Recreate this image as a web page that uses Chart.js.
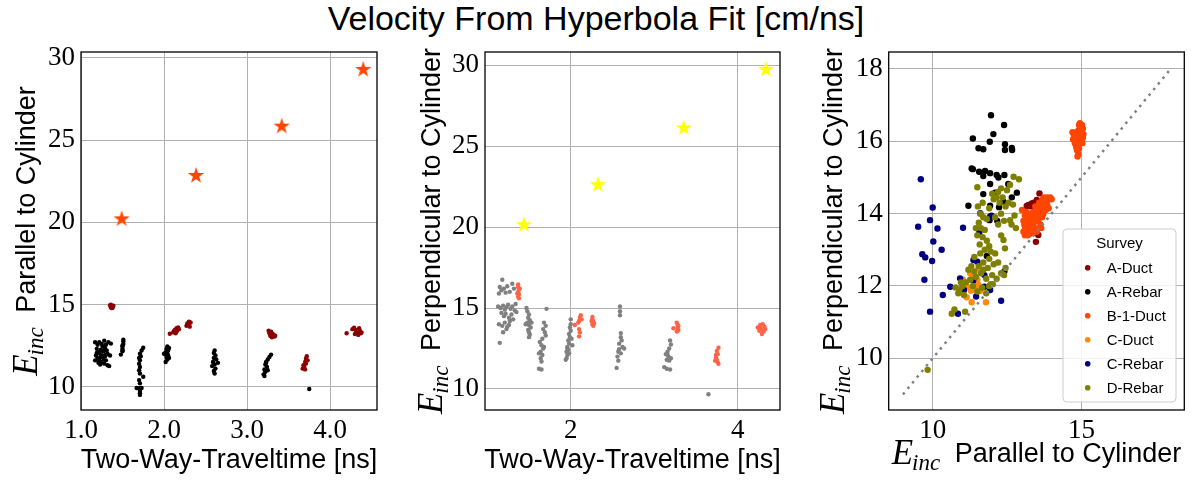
<!DOCTYPE html>
<html><head><meta charset="utf-8">
<script src="https://cdn.jsdelivr.net/npm/chart.js@4.4.1/dist/chart.umd.min.js"></script>
<style>
html,body{margin:0;padding:0;background:#fff;}
body{width:1192px;height:480px;position:relative;overflow:hidden;}
#title{position:absolute;left:0;top:1px;width:1192px;text-align:center;font-family:'Liberation Sans',sans-serif;font-size:34px;line-height:34px;color:#000;}
canvas{position:absolute;top:0;}
</style></head>
<body>
<div id="title">Velocity From Hyperbola Fit [cm/ns]</div>
<canvas id="c1" width="390" height="480" style="left:0px"></canvas>
<canvas id="c2" width="400" height="480" style="left:390px"></canvas>
<canvas id="c3" width="402" height="480" style="left:790px"></canvas>
<script>
// ---------- DATA ----------
// Panel 1: Two-way traveltime [ns] vs E_inc parallel
const starTwt1 = [1.49, 2.386, 3.418, 4.40];
const starPar  = [20.24, 22.88, 25.88, 29.33];
const parDuct = [[1.35,14.95],[1.36,14.82],[1.37,14.9],[1.38,14.8],[1.39,14.92],[1.36,14.98],[1.38,14.86],[1.37,14.78],
 [2.07,13.22],[2.11,13.3],[2.13,13.45],[2.15,13.55],[2.16,13.4],[2.17,13.6],[2.14,13.25],[2.18,13.5],[2.12,13.38],
 [2.27,13.7],[2.28,13.85],[2.29,13.75],[2.3,13.95],[2.31,13.65],[2.3,13.8],[2.32,13.9],
 [3.26,13.4],[3.27,13.25],[3.28,13.1],[3.3,13.0],[3.32,13.15],[3.33,13.05],[3.29,13.35],[3.31,13.2],[3.34,13.1],
 [3.67,11.1],[3.68,11.3],[3.7,11.5],[3.71,11.7],[3.72,11.85],[3.69,11.2],[3.7,11.05],[3.73,11.6],[3.71,11.4],
 [4.2,13.25],[4.27,13.5],[4.29,13.58],[4.31,13.45],[4.33,13.3],[4.34,13.15],[4.36,13.4],[4.37,13.25],[4.3,13.2],[4.35,13.55],[4.38,13.3]];
const parRebar = [[1.17,12.7],[1.2,12.55],[1.22,12.7],[1.25,12.6],[1.28,12.8],[1.3,12.55],[1.33,12.7],[1.36,12.62],[1.19,12.3],[1.21,12.1],[1.23,12.0],[1.24,12.25],[1.26,11.9],[1.27,12.15],[1.29,12.35],[1.31,12.2],[1.32,12.0],[1.18,11.9],[1.2,11.75],[1.22,11.6],[1.24,11.8],[1.25,11.5],[1.27,11.7],[1.28,11.4],[1.3,11.6],[1.32,11.3],[1.34,11.25],[1.17,11.6],[1.21,11.45],[1.35,11.9],[1.26,12.45],[1.23,11.35],[1.29,11.85],[1.19,12.05],[1.3,11.95],
 [1.48,11.95],[1.5,12.15],[1.5,12.3],[1.5,12.45],[1.51,12.6],[1.51,12.75],[1.51,12.85],[1.5,12.5],[1.5,12.2],
 [1.75,12.37],[1.73,12.2],[1.71,12.0],[1.72,11.85],[1.7,11.75],[1.71,11.6],[1.7,11.4],[1.71,11.2],[1.7,11.0],[1.71,10.8],[1.75,10.6],[1.7,10.4],[1.71,10.2],[1.67,9.92],[1.7,9.9],[1.73,9.92],[1.71,9.75],[1.71,9.6],[1.71,9.5],
 [2.0,12.0],[2.02,12.1],[2.03,12.3],[2.04,12.45],[2.05,12.2],[2.05,11.9],[2.03,11.8],[2.04,11.65],[2.02,11.5],[2.06,12.35],[2.04,12.0],[2.06,11.75],
 [2.61,12.2],[2.6,12.05],[2.62,11.9],[2.6,11.75],[2.63,11.65],[2.59,11.5],[2.65,11.45],[2.61,11.35],[2.58,11.25],[2.62,11.1],[2.6,10.95],[2.61,10.8],
 [3.29,11.95],[3.27,11.8],[3.25,11.65],[3.23,11.5],[3.22,11.35],[3.24,11.2],[3.21,11.05],[3.22,10.9],[3.2,10.75],[3.21,10.65],[3.23,11.45],[3.25,11.0],
 [3.75,9.86]];
// Panel 2: Two-way traveltime [ns] vs E_inc perpendicular
const starTwt2 = [1.438, 2.326, 3.354, 4.34];
const starPerp = [20.18, 22.65, 26.17, 29.78];
const perpRebar = [[1.18,16.75],[1.15,16.3],[1.17,16.1],[1.14,15.9],[1.2,16.2],[1.24,16.35],[1.27,16.0],[1.22,15.95],[1.3,16.5],[1.32,16.2],[1.13,15.1],[1.16,15.0],[1.19,15.15],[1.21,14.9],[1.23,15.05],[1.25,15.2],[1.28,14.95],[1.3,15.1],[1.33,14.85],[1.17,14.7],[1.2,14.5],[1.22,14.65],[1.26,14.4],[1.29,14.6],[1.31,14.3],[1.14,14.0],[1.18,13.9],[1.21,14.1],[1.24,13.85],[1.27,14.2],[1.19,13.5],[1.23,13.7],[1.26,13.95],[1.15,12.85],[1.35,14.75],[1.34,15.25],
 [1.47,15.0],[1.48,14.8],[1.5,14.6],[1.49,14.4],[1.51,14.25],[1.48,14.1],[1.5,13.95],[1.52,13.8],[1.49,13.65],[1.5,13.5],[1.51,13.35],[1.5,13.2],[1.46,14.0],[1.53,14.1],
 [1.71,14.95],[1.68,14.1],[1.7,13.9],[1.67,13.7],[1.69,13.5],[1.7,13.3],[1.66,13.1],[1.63,12.9],[1.65,12.7],[1.67,12.5],[1.64,12.3],[1.66,12.1],[1.64,11.9],[1.65,11.7],[1.62,11.25],[1.65,11.2],[1.68,12.6],[1.62,12.2],
 [2.0,14.3],[2.0,14.0],[1.99,13.8],[2.0,13.6],[1.98,13.4],[1.99,13.2],[1.97,13.0],[1.98,12.8],[1.96,12.6],[1.97,12.4],[1.95,12.3],[1.96,12.1],[1.95,11.9],[1.94,11.8],[2.01,13.1],[2.02,12.7],[1.98,12.2],[1.96,12.5],
 [2.59,15.1],[2.59,14.8],[2.59,14.55],[2.6,13.45],[2.6,13.2],[2.61,13.0],[2.58,12.8],[2.62,12.6],[2.64,12.5],[2.57,12.3],[2.6,12.2],[2.56,12.0],[2.57,11.75],[2.55,11.3],[2.58,12.45],
 [3.19,13.0],[3.2,12.75],[3.18,12.5],[3.16,12.3],[3.14,12.15],[3.17,12.0],[3.2,11.9],[3.15,11.8],[3.18,11.75],[3.12,11.35],[3.15,11.25],[3.19,11.2],[3.16,12.1],
 [3.65,9.67]];
const perpDuct = [[1.37,16.45],[1.37,16.3],[1.38,16.15],[1.37,16.0],[1.38,15.85],[1.37,15.7],[1.38,15.6],[1.39,16.2],[1.36,15.9],
 [2.05,13.95],[2.09,14.1],[2.11,14.4],[2.12,14.55],[2.1,14.2],[2.1,13.7],[2.11,13.5],[2.1,13.25],[2.13,14.3],
 [2.26,14.45],[2.26,14.3],[2.27,14.15],[2.26,14.0],[2.27,13.9],[2.25,14.2],[2.28,14.05],
 [3.27,14.1],[3.28,13.95],[3.28,13.8],[3.29,13.65],[3.27,13.55],[3.23,13.75],[3.29,13.9],[3.28,13.6],
 [3.77,12.55],[3.75,12.35],[3.76,12.15],[3.74,11.95],[3.75,11.8],[3.76,11.65],[3.77,11.55],[3.74,12.1],[3.73,11.75],
 [4.24,13.8],[4.27,13.95],[4.3,14.0],[4.32,13.85],[4.28,13.7],[4.31,13.55],[4.26,13.6],[4.33,13.7],[4.29,13.4],[4.27,13.85]];
// Panel 3: E_inc parallel vs E_inc perpendicular, by survey
const surveys = ['A-Duct','A-Rebar','B-1-Duct','C-Duct','C-Rebar','D-Rebar'];
const surveyColors = ['#8B0000','#000000','#FF4500','#FF8C00','#000080','#808000'];
const aDuct = [[13.59,14.56],[13.22,14.24],[13.33,14.28],[13.5,14.38],[13.16,14.21],[13.4,14.3],[13.55,13.41],[13.47,13.22],[13.3,14.2]];
const aRebar = [[11.96,16.72],[12.40,16.45],[11.35,16.08],[12.04,16.20],[11.92,15.99],[11.54,15.81],[11.70,15.78],[12.43,15.92],[12.43,15.76],[12.66,15.82],[12.67,15.76],[11.31,15.25],[11.35,15.23],[11.56,15.16],[11.76,15.18],[11.93,15.12],[11.70,15.04],[12.15,15.07],[12.41,15.07],[12.21,15.00],[12.54,14.82],[11.93,14.82],[11.70,14.54],[12.10,14.58],[12.83,14.58],[12.66,14.45],[11.20,14.22],[11.93,14.22],[12.23,14.18],[12.38,14.33],[11.91,13.82],[12.17,13.80],[11.82,12.83]];
const b1Duct = [[13.05,13.5],[13.1,13.6],[13.15,13.45],[13.2,13.7],[13.25,13.55],[13.3,13.8],[13.35,13.65],[13.4,13.5],[13.05,13.8],[13.1,13.95],[13.15,14.05],[13.2,13.9],[13.25,14.0],[13.3,13.6],[13.35,13.9],[13.4,13.75],[13.45,13.6],[13.1,13.4],[13.2,13.4],[13.3,13.45],[13.0,14.1],[13.08,13.7],[13.18,13.8],[13.28,13.95],[13.38,14.05],[13.48,13.85],[13.5,14.0],[13.55,14.1],[13.6,14.2],[13.65,14.3],[13.7,14.4],[13.75,14.45],[13.8,14.35],[13.85,14.45],[13.9,14.4],[13.95,14.45],[14.0,14.4],[13.6,13.95],[13.65,14.05],[13.7,14.15],[13.75,14.2],[13.8,14.1],[13.55,13.8],[13.62,13.7],[13.68,13.9],[13.72,14.0],[13.58,14.3],[13.85,14.25],[13.9,14.15],[13.5,13.5],[13.45,14.2],[13.65,13.6],
 [14.95,16.5],[15.02,16.45],[15.05,16.35],[14.98,16.4],[14.9,16.3],[14.85,16.25],[14.7,16.25],[14.75,16.15],[14.8,16.05],[14.85,16.0],[14.9,16.1],[14.95,16.2],[15.0,16.25],[15.05,16.1],[15.0,16.0],[14.78,15.95],[14.82,15.85],[14.88,15.9],[14.92,15.8],[14.85,15.75],[14.9,15.65],[14.87,15.58],[14.95,15.95],[15.03,15.95],[14.72,16.05],[14.8,16.2],[14.97,16.05],[14.92,16.45],[15.07,16.2]];
const cDuct = [[11.01,12.18],[11.26,12.35],[11.35,12.26],[11.20,11.96],[11.42,11.94],[11.54,12.03],[11.59,11.86],[11.14,11.69],[11.31,11.55],[11.79,11.55],[11.50,12.18],[11.54,12.49],[11.29,11.87],[11.1,12.05],[11.45,12.1]];
const cRebar = [[9.60,14.95],[10.0,14.17],[9.91,13.82],[10.16,13.59],[9.51,13.64],[10.02,13.23],[10.30,13.0],[9.65,12.88],[9.75,12.79],[9.98,12.69],[9.72,12.17],[9.91,11.29],[10.34,11.75],[10.59,11.98],[10.92,12.21],[11.05,11.89],[10.85,11.23],[11.02,13.61],[11.60,14.01],[11.57,13.49],[11.93,13.92],[11.98,13.94],[11.37,12.72],[11.50,12.67],[11.36,12.15],[11.74,12.30],[11.74,11.98],[11.93,11.89],[11.46,11.71],[12.30,11.59],[12.41,12.40]];
const dRebar = [[9.83,9.68],[10.64,11.23],[10.73,11.35],[11.09,11.29],[10.86,11.8],[10.77,11.96],[11.26,12.17],[11.4,12.4],[11.55,12.55],[11.7,12.65],[11.85,12.5],[12.0,12.3],[11.95,12.05],[11.8,12.2],[11.62,12.35],[11.45,12.25],[11.35,12.0],[11.5,11.85],[11.7,12.45],[11.9,12.75],[12.05,12.6],[12.15,12.2],[12.3,12.35],[12.45,12.5],[12.4,12.3],[11.6,12.9],[11.75,13.0],[11.9,13.1],[11.58,13.15],[11.68,13.35],[11.82,13.25],[11.5,13.4],[11.45,13.6],[11.55,13.75],[11.7,13.9],[11.82,13.85],[11.6,14.0],[11.52,14.2],[11.68,14.3],[11.5,14.73],[11.9,14.15],[12.05,14.4],[12.2,14.6],[12.35,14.45],[12.5,14.65],[12.6,14.8],[12.72,15.02],[12.9,14.95],[12.45,14.2],[12.3,14.0],[12.55,14.3],[12.7,14.25],[12.4,13.8],[12.6,13.82],[12.75,13.95],[12.8,13.6],[12.65,13.7],[12.38,13.27],[12.43,13.04],[12.3,13.4],[12.2,13.7],[12.1,13.9],[12.25,14.3],[12.15,14.45],[12.0,14.55],[12.3,14.7],[11.4,12.8],[11.3,12.55],[11.2,12.45],[11.12,12.1],[11.0,12.0],[10.9,11.9],[11.05,11.75],[10.95,12.1],[12.1,12.9],[11.95,12.95],[12.2,12.65],[11.62,13.6],[11.75,13.55],[11.66,11.95],[11.8,11.8],[11.9,12.0],[12.02,12.05]];
const surveyData = [aDuct, aRebar, b1Duct, cDuct, cRebar, dRebar];
const diagLine = [9, 18];
// tick labels
const xTicks1 = [1, 2, 3, 4], yTicks1 = [10, 15, 20, 25, 30];
const xTicks2 = [2, 4],       yTicks2 = [10, 15, 20, 25, 30];
const xTicks3 = [10, 15],     yTicks3 = [10, 12, 14, 16, 18];

// ---------- helpers ----------
const pts = arr => arr.map(p => ({x: p[0], y: p[1]}));
const zip = (xs, ys) => xs.map((x, i) => ({x, y: ys[i]}));
function starImg(color, r) {
  const s = Math.ceil(2 * r + 2), c = document.createElement('canvas');
  c.width = s; c.height = s;
  const g = c.getContext('2d');
  g.translate(s / 2, s / 2 + r * 0.08);
  g.beginPath();
  for (let i = 0; i < 10; i++) {
    const rr = i % 2 ? r * 0.382 : r, a = -Math.PI / 2 + i * Math.PI / 5;
    g.lineTo(rr * Math.cos(a), rr * Math.sin(a));
  }
  g.closePath(); g.fillStyle = color; g.fill();
  return c;
}
const SANS = "'Liberation Sans', Arial, sans-serif";
const SERIF = "'Liberation Serif', 'Times New Roman', serif";
function drawTitle(ctx, t, cx, cy, rot) {
  ctx.save();
  ctx.translate(cx, cy);
  if (rot) ctx.rotate(-Math.PI / 2);
  ctx.font = "27px " + SANS;
  const sw = ctx.measureText(t.text).width;
  const ew = t.e ? 63 : 0;
  let u = -(ew + sw) / 2;
  ctx.fillStyle = '#000'; ctx.textAlign = 'left'; ctx.textBaseline = 'alphabetic';
  if (t.e) {
    ctx.font = "italic 35px " + SERIF;
    ctx.fillText('E', u, 2);
    const w = ctx.measureText('E').width;
    ctx.font = "italic 23px " + SERIF;
    ctx.fillText('inc', u + w - 1, 8);
  }
  ctx.font = "27px " + SANS;
  ctx.fillText(t.text, u + ew, 0);
  ctx.restore();
}
function roundRect(ctx, x, y, w, h, r) {
  ctx.beginPath();
  ctx.moveTo(x + r, y); ctx.lineTo(x + w - r, y); ctx.quadraticCurveTo(x + w, y, x + w, y + r);
  ctx.lineTo(x + w, y + h - r); ctx.quadraticCurveTo(x + w, y + h, x + w - r, y + h);
  ctx.lineTo(x + r, y + h); ctx.quadraticCurveTo(x, y + h, x, y + h - r);
  ctx.lineTo(x, y + r); ctx.quadraticCurveTo(x, y, x + r, y); ctx.closePath();
}
const deco = {
  id: 'deco',
  afterDraw(chart, args, o) {
    const {ctx, chartArea: a} = chart;
    ctx.save();
    ctx.strokeStyle = '#000'; ctx.lineWidth = 1.3;
    ctx.strokeRect(a.left, a.top, a.right - a.left, a.bottom - a.top);
    drawTitle(ctx, o.xTitle, (a.left + a.right) / 2, o.xBase, false);
    drawTitle(ctx, o.yTitle, o.yBase, (a.top + a.bottom) / 2, true);
    if (o.legend) {
      const L = o.legend;
      roundRect(ctx, L.x, L.y, L.w, L.h, 4);
      ctx.fillStyle = 'rgba(255,255,255,0.85)'; ctx.fill();
      ctx.strokeStyle = '#cccccc'; ctx.lineWidth = 1; ctx.stroke();
      ctx.fillStyle = '#000'; ctx.textAlign = 'center'; ctx.textBaseline = 'alphabetic';
      ctx.font = "15px " + SANS;
      ctx.fillText('Survey', L.x + L.w / 2, L.y + 19);
      ctx.textAlign = 'left'; ctx.textBaseline = 'middle';
      chart.data.datasets.forEach((ds, i) => {
        if (ds.label === undefined) return;
        const y = L.y + 38.7 + i * 24;
        ctx.beginPath(); ctx.arc(L.x + 24.7, y, 2.8, 0, Math.PI * 2);
        ctx.fillStyle = ds.backgroundColor; ctx.fill();
        ctx.fillStyle = '#000'; ctx.font = "15px " + SANS;
        ctx.fillText(ds.label, L.x + 43.7, y + 1);
      });
    }
    ctx.restore();
  }
};
function axis(min, max, ticks, fmt, isX, size) {
  return {
    type: 'linear', min, max,
    afterBuildTicks: s => { s.ticks = ticks.map(v => ({value: v})); },
    afterFit: s => { if (isX) s.height = size; else s.width = size; },
    grid: {color: '#b0b0b0', lineWidth: 1, drawTicks: false},
    border: {display: false},
    ticks: {padding: isX ? 5 : 6, color: '#000', autoSkip: false, maxRotation: 0,
            font: {family: SERIF, size: 27}, callback: fmt}
  };
}
function baseOpts(pad, scales, decoOpts) {
  return {
    type: 'scatter',
    options: {
      responsive: false, animation: false, devicePixelRatio: 1,
      layout: {padding: {top: 52, right: pad, left: 0, bottom: 0}},
      scales,
      plugins: {legend: {display: false}, tooltip: {enabled: false}, deco: decoOpts}
    },
    plugins: [deco]
  };
}
const fmtStr = v => String(v);

// ---------- Chart 1 ----------
const c1 = baseOpts(13, {
  x: axis(1.0, 4.566, xTicks1, v => v.toFixed(1), true, 70),
  y: axis(8.58, 30.36, yTicks1, fmtStr, false, 81)
}, {xTitle: {e: false, text: 'Two-Way-Traveltime [ns]'}, xBase: 468,
    yTitle: {e: true, text: 'Parallel to Cylinder'}, yBase: 35});
c1.data = {datasets: [
  {data: zip(starTwt1, starPar), pointStyle: starImg('#FF4500', 8.6), pointRadius: 9, order: 0},
  {data: pts(parDuct), backgroundColor: '#8B0000', pointRadius: 2.2, borderWidth: 0, order: 1},
  {data: pts(parRebar), backgroundColor: '#000000', pointRadius: 2.2, borderWidth: 0, order: 2}
]};
new Chart(document.getElementById('c1'), c1);

// ---------- Chart 2 ----------
const c2 = baseOpts(9.3, {
  x: axis(0.973, 4.507, xTicks2, fmtStr, true, 70),
  y: axis(8.70, 30.82, yTicks2, fmtStr, false, 95)
}, {xTitle: {e: false, text: 'Two-Way-Traveltime [ns]'}, xBase: 468,
    yTitle: {e: true, text: 'Perpendicular to Cylinder'}, yBase: 50});
c2.data = {datasets: [
  {data: zip(starTwt2, starPerp), pointStyle: starImg('#FFFF00', 8.6), pointRadius: 9, order: 0},
  {data: pts(perpDuct), backgroundColor: '#FF6347', pointRadius: 2.2, borderWidth: 0, order: 1},
  {data: pts(perpRebar), backgroundColor: '#808080', pointRadius: 2.2, borderWidth: 0, order: 2}
]};
new Chart(document.getElementById('c2'), c2);

// ---------- Chart 3 ----------
const c3 = baseOpts(7.7, {
  x: axis(8.52, 18.46, xTicks3, fmtStr, true, 70),
  y: axis(8.57, 18.47, yTicks3, fmtStr, false, 98.7)
}, {xTitle: {e: true, text: 'Parallel to Cylinder'}, xBase: 461.7,
    yTitle: {e: true, text: 'Perpendicular to Cylinder'}, yBase: 52,
    legend: {x: 273, y: 229, w: 113, h: 173}});
c3.data = {datasets: surveys.map((s, i) => ({
  label: s, data: pts(surveyData[i]), backgroundColor: surveyColors[i],
  pointRadius: 3.2, borderWidth: 0, order: 10 - i
})).concat([{
  data: zip(diagLine, diagLine), showLine: true, borderColor: '#808080', borderWidth: 2.5,
  borderDash: [2.5, 4.8], pointRadius: 0, order: -1, fill: false
}])};
new Chart(document.getElementById('c3'), c3);
</script>
</body></html>
